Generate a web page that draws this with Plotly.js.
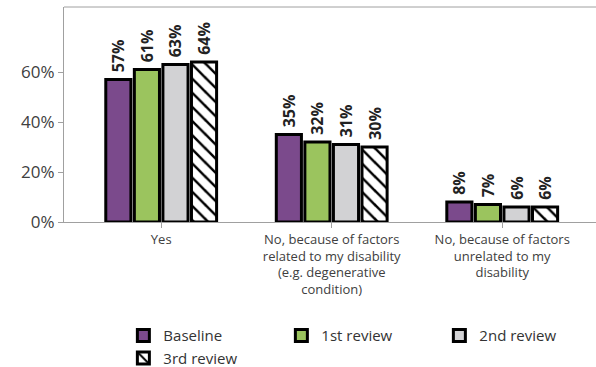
<!DOCTYPE html>
<html><head><meta charset="utf-8">
<script src="https://cdn.plot.ly/plotly-3.0.1.min.js"></script>
<style>html,body{margin:0;padding:0;background:#fff}#chart{width:596px;height:367px}</style>
</head><body><div id="chart"></div>
<script>
const categories = ["Yes", "No, because of factors<br>related to my disability<br>(e.g. degenerative<br>condition)", "No, because of factors<br>unrelated to my<br>disability"];
const seriesNames = ["Baseline", "1st review", "2nd review", "3rd review"];
const baseline = [57, 35, 8];
const review1 = [61, 32, 7];
const review2 = [63, 31, 6];
const review3 = [64, 30, 6];
const yTickVals = [0, 20, 40, 60];
const yTickText = ["0%", "20%", "40%", "60%"];

const colors = ["#7b4a8c", "#9bc45e", "#d2d2d4", "#ffffff"];
const allValues = [baseline, review1, review2, review3];

const traces = allValues.map((vals, i) => ({
  type: "bar",
  name: seriesNames[i],
  x: categories,
  y: vals,
  text: vals.map(v => "\u00a0" + v + "%"),
  textposition: "outside",
  textangle: -90,
  cliponaxis: false,
  constraintext: "none",
  textfont: {family: "Open Sans", size: 16, color: "#222", weight: "bold"},
  hoverinfo: "none",
  marker: {
    color: colors[i],
    line: {color: "#000", width: 3},
    pattern: i === 3 ? {shape: "\\", fgcolor: "#000", bgcolor: "#fff", size: 10, solidity: 0.25} : undefined
  }
}));

const layout = {
  width: 596, height: 367,
  margin: {l: 64, r: 0, t: 7, b: 145, autoexpand: false},
  paper_bgcolor: "#fff", plot_bgcolor: "#fff",
  barmode: "group", bargap: 0.33, bargroupgap: 0.12,
  font: {family: "Open Sans", color: "#404040"},
  showlegend: true,
  legend: {orientation: "h", xref: "container", yref: "container", x: 0.207, xanchor: "left", y: 0.13, yanchor: "top",
    entrywidth: 113, entrywidthmode: "pixels", font: {size: 15, color: "#333"}, traceorder: "normal",
    tracegroupgap: 0, itemwidth: 30},
  xaxis: {
    range: [-0.57, 2.55], showline: true, linecolor: "#a0a0a0", linewidth: 1,
    ticks: "outside", ticklen: 5, tickcolor: "#a0a0a0", tickfont: {size: 13, color: "#404040"},
    showgrid: false, fixedrange: true
  },
  yaxis: {
    range: [0, 86], showline: true, linecolor: "#a0a0a0", linewidth: 1, mirror: false,
    ticks: "outside", ticklen: 5, tickcolor: "#a0a0a0",
    tickvals: yTickVals, ticktext: yTickText, tickfont: {size: 17, color: "#404040"},
    showgrid: false, zeroline: false
  },
  shapes: [{type: "line", xref: "paper", yref: "paper", x0: 0, x1: 1, y0: 1, y1: 1, line: {color: "#a0a0a0", width: 1}}]
};

Plotly.newPlot("chart", traces, layout, {displayModeBar: false, staticPlot: true});
</script></body></html>
